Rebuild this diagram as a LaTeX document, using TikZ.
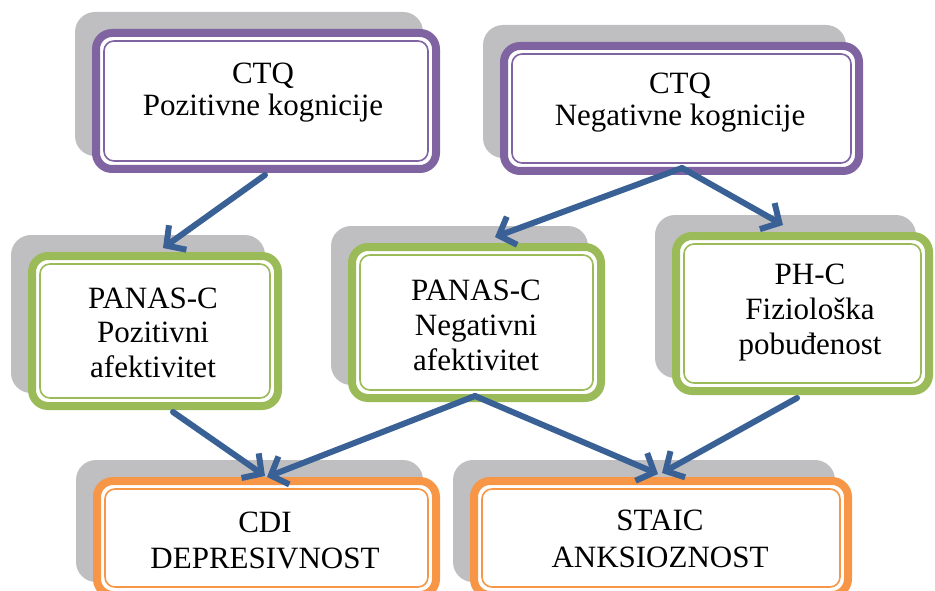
\documentclass[tikz,border=0pt]{standalone}
\usepackage{fontspec}
\setmainfont{Liberation Serif}
\usetikzlibrary{arrows.meta,calc,backgrounds}
\definecolor{purp}{HTML}{8064A2}
\definecolor{grn}{HTML}{9BBB59}
\definecolor{orng}{HTML}{F79646}
\definecolor{arrblue}{HTML}{3A6196}
\definecolor{shgray}{HTML}{BFBFC1}
\newcommand\boxtext[1]{\begin{tabular}[t]{@{}c@{}}#1\end{tabular}}
\begin{document}
\begin{tikzpicture}[x=1pt,y=-1pt,
  frame/.style={draw=#1, line width=8pt, rounded corners=16pt, fill=white, inner sep=0pt, outer sep=0pt},
  innerline/.style={draw=#1, line width=1.6pt, rounded corners=10pt},
  boxshadow/.style={fill=shgray, rounded corners=20pt},
  lbl/.style={anchor=base, inner sep=0pt, font=\fontsize{31}{#1}\selectfont},
  lbl/.default=34,
  conn/.style={draw=arrblue, line width=6pt, line cap=round, line join=round,
    -{Straight Barb[length=14pt,width=30pt]}}
]
\useasboundingbox (0,0) rectangle (935,591);
\clip (0,0) rectangle (935,591);

% boxes
\node[frame=purp, minimum width=340pt, minimum height=136pt] (b1) at (266,101) {};
\node[frame=purp, minimum width=355pt, minimum height=125pt] (b2) at (681.5,108.5) {};
\node[frame=grn, minimum width=246pt, minimum height=150pt] (b3) at (155,331) {};
\node[frame=grn, minimum width=249pt, minimum height=151pt] (b4) at (476.5,322.5) {};
\node[frame=grn, minimum width=253pt, minimum height=155pt] (b5) at (802.5,313.5) {};
\node[frame=orng, minimum width=339pt, minimum height=114pt] (b6) at (266.5,538) {};
\node[frame=orng, minimum width=374pt, minimum height=114pt] (b7) at (661,538) {};

% shadows
\begin{pgfonlayer}{background}
\foreach \b in {b1,b2,b3,b4,b5,b6,b7}{
  \fill[boxshadow] ($(\b.north west)+(-21,-21)$) rectangle ($(\b.south east)+(-13,-13)$);
}
\end{pgfonlayer}

% inner lines
\draw[innerline=purp] ($(b1.north west)+(8,8)$) rectangle ($(b1.south east)+(-8,-8)$);
\draw[innerline=purp] ($(b2.north west)+(8,8)$) rectangle ($(b2.south east)+(-8,-8)$);
\draw[innerline=grn] ($(b3.north west)+(8,8)$) rectangle ($(b3.south east)+(-8,-8)$);
\draw[innerline=grn] ($(b4.north west)+(8,8)$) rectangle ($(b4.south east)+(-8,-8)$);
\draw[innerline=grn] ($(b5.north west)+(8,8)$) rectangle ($(b5.south east)+(-8,-8)$);
\draw[innerline=orng] ($(b6.north west)+(8,8)$) rectangle ($(b6.south east)+(-8,-8)$);
\draw[innerline=orng] ($(b7.north west)+(8,8)$) rectangle ($(b7.south east)+(-8,-8)$);

% texts
\node[lbl=32] (t1) at (263,84) {\boxtext{CTQ\\Pozitivne kognicije}};
\node[lbl=32] (t2) at (680,94) {\boxtext{CTQ\\Negativne kognicije}};
\node[lbl=34.5] (t3) at (153,308) {\boxtext{PANAS-C\\Pozitivni\\afektivitet}};
\node[lbl=35] (t4) at (476,300) {\boxtext{PANAS-C\\Negativni\\afektivitet}};
\node[lbl=35] (t5) at (810,284) {\boxtext{PH-C\\Fiziološka\\pobuđenost}};
\node[lbl=36] (t6) at (265,532) {\boxtext{CDI\\DEPRESIVNOST}};
\node[lbl=37] (t7) at (660,530) {\boxtext{STAIC\\ANKSIOZNOST}};

% connectors
\draw[conn] ($(b1.south)+(-1,6)$) -- ($(b3.north)+(8,-8)$);
\draw[conn] ($(b2.south)+(0.5,-3)$) -- ($(b4.north)+(18.5,-10)$);
\draw[conn] ($(b2.south)+(0.5,-3)$) -- ($(b5.north)+(-19.5,-11)$);
\draw[conn] ($(b3.south)+(18,6)$) -- ($(b6.north)+(-1.5,-5)$);
\draw[conn] ($(b4.south)+(-1.5,-2)$) -- ($(b6.north)+(0.5,-4)$);
\draw[conn] ($(b4.south)+(-1.5,-2)$) -- ($(b7.north)+(-3,-7)$);
\draw[conn] ($(b5.south)+(-5.5,7)$) -- ($(b7.north)+(1,-8)$);
\end{tikzpicture}
\end{document}
